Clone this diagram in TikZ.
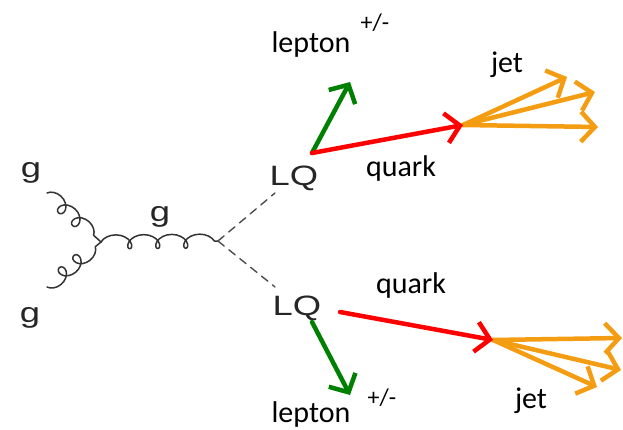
\documentclass[tikz,border=0pt]{standalone}
\usepackage{fontspec}
\setmainfont{Carlito}
\newfontfamily\feynfont{Liberation Sans}
\usetikzlibrary{arrows.meta,decorations.pathmorphing}
\definecolor{lepgreen}{RGB}{0,128,0}
\definecolor{quarkred}{RGB}{255,0,0}
\definecolor{jetorange}{RGB}{244,157,18}

\begin{document}
\begin{tikzpicture}[x=1pt,y=-1pt,line cap=round,line join=round,
  lbl/.style={font=\fontsize{30}{30}\selectfont,inner sep=0pt,anchor=base},
  sgn/.style={font=\fontsize{24}{24}\selectfont,inner sep=0pt},
  feyn/.style={font=\feynfont\fontsize{28}{28}\selectfont,text=black!85,inner sep=0pt,anchor=base,xscale=1.3},
  gluon/.style={draw=black!80,line width=1.5pt,decorate,decoration={coil,amplitude=7pt,segment length=#1,aspect=1.1}},
  gluon/.default=19pt,
  scalar/.style={draw=black!70,line width=1.4pt,dash pattern=on 8pt off 6pt},
  decay/.style={line width=4.5pt,-{Straight Barb[length=14pt,width=30pt]}}]
\useasboundingbox (0,0) rectangle (623,430);
% feynman part
\node[feyn] (g1) at (31,178) {g};
\node[feyn] (g2) at (30,322) {g};
\node[feyn] (g3) at (160,222) {g};
\node[feyn] (LQa) at (294,186) {LQ};
\node[feyn] (LQb) at (297,315) {LQ};
\coordinate (ga) at (47,193);
\coordinate (gb) at (47,287);
\coordinate (vg) at (101,242);
\coordinate (vs) at (218,241);
\coordinate (sa) at (275,193);
\coordinate (sb) at (275,287);
\draw[gluon] (ga) -- (vg);
\draw[gluon,decoration={mirror}] (gb) -- (vg);
\draw[gluon=28pt] (vg) -- (vs);
\draw[scalar] (vs) -- (sa);
\draw[scalar] (vs) -- (sb);
% upper decay
\coordinate (qa) at (312,153);
\coordinate (la) at (350,82);
\coordinate (ja) at (463,125);
\coordinate (ja1) at (567,77);
\coordinate (ja2) at (595,92);
\coordinate (ja3) at (598,127);
\draw[decay,jetorange] (ja) -- (ja1);
\draw[decay,jetorange] (ja) -- (ja2);
\draw[decay,jetorange] (ja) -- (ja3);
\draw[decay,lepgreen] (qa) -- (la);
\draw[decay,quarkred] (qa) -- (ja);
\node[lbl] (lepa) at (311,53) {lepton};
\node[sgn] (pma) at (375,23) {+/-};
\node[lbl] (jeta) at (507,73) {jet};
\node[lbl] (quarka) at (401,177) {quark};
% lower decay
\coordinate (qb) at (340,312);
\coordinate (lb0) at (312,322);
\coordinate (lb) at (350,395);
\coordinate (jb) at (493,340);
\coordinate (jb1) at (622,338);
\coordinate (jb2) at (621,370);
\coordinate (jb3) at (597,387);
\draw[decay,jetorange] (jb) -- (jb1);
\draw[decay,jetorange] (jb) -- (jb2);
\draw[decay,jetorange] (jb) -- (jb3);
\draw[decay,lepgreen] (lb0) -- (lb);
\draw[decay,quarkred] (qb) -- (jb);
\node[lbl] (quarkb) at (411,293) {quark};
\node[lbl] (jetb) at (531,408) {jet};
\node[sgn] (pmb) at (382,398) {+/-};
\node[lbl] (lepb) at (311,422) {lepton};
\end{tikzpicture}
\end{document}
